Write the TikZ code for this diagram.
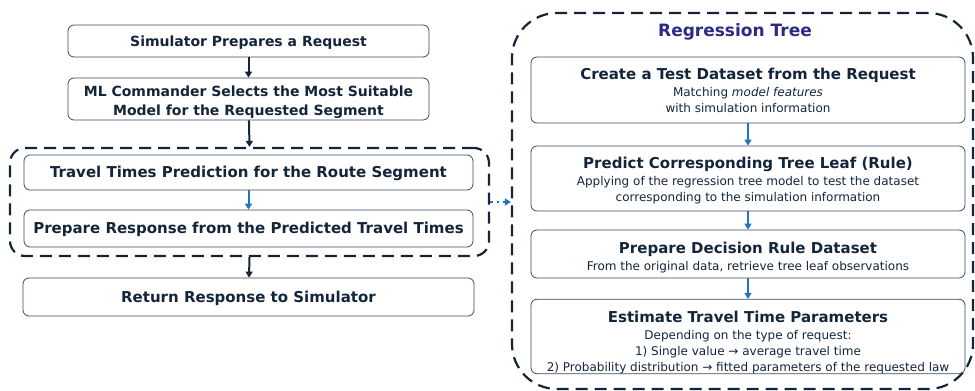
\documentclass[tikz,border=0pt]{standalone}
\usepackage{fontspec}
\setmainfont{DejaVu Sans}
\usetikzlibrary{arrows.meta}
\definecolor{navy}{HTML}{14253A}
\definecolor{boxline}{HTML}{3E4B5B}
\definecolor{flowblue}{HTML}{1F74C4}
\definecolor{titlepurple}{HTML}{2D2A86}
\newcommand{\stepfont}{\fontsize{15}{18}\selectfont\bfseries}
% strut that lowers a node's text block by half of its extra height
\newcommand{\lowerby}[1]{\rule{0pt}{\dimexpr 11pt+2\dimexpr #1\relax\relax}}
\begin{document}
\begin{tikzpicture}[x=1pt,y=-1pt,
  stepbox/.style={draw=boxline, line width=0.8pt, rounded corners=6pt,
    text=navy, align=center, inner sep=0pt},
  headA/.style={font=\fontsize{14}{18.5}\selectfont\bfseries},
  headB/.style={font=\fontsize{15}{18}\selectfont\bfseries},
  notes/.style={font=\fontsize{12}{16}\selectfont},
  groupbox/.style={draw=navy, line width=2.2pt, dash pattern=on 12pt off 7pt, inner sep=0pt},
  darr/.style={draw=navy, line width=2pt, -{Triangle[width=7pt,length=6pt]}},
  barr/.style={draw=flowblue, line width=2pt, -{Triangle[width=7pt,length=6pt]}},
  dotarr/.style={draw=flowblue, line width=2.2pt, dash pattern=on 2.5pt off 4pt, -{Triangle[width=7pt,length=6pt]}}
]
\useasboundingbox (0,0) rectangle (975,391);

% left flow
\node[stepbox, headA, minimum width=361pt, minimum height=32pt] (b1) at (248.5,41) {\lowerby{1pt}Simulator Prepares a Request};
\node[stepbox, headA, minimum width=361pt, minimum height=42pt] (b2) at (248.5,99) {\lowerby{3pt}ML Commander Selects the Most Suitable\\Model for the Requested Segment};
\node[groupbox, rounded corners=15pt, minimum width=479pt, minimum height=108pt] (lgrp) at (249.5,202) {};
\node[stepbox, headB, minimum width=449pt, minimum height=35pt] (b3) at (248.5,172.5) {\lowerby{1pt}Travel Times Prediction for the Route Segment};
\node[stepbox, headB, minimum width=449pt, minimum height=37pt] (b4) at (248.5,228.5) {\lowerby{1pt}Prepare Response from the Predicted Travel Times};
\node[stepbox, headB, minimum width=451pt, minimum height=38pt] (b5) at (248.5,297) {\lowerby{2pt}Return Response to Simulator};

\draw[darr] (b1) -- (b2);
\draw[darr] (b2) -- (lgrp.north);
\draw[barr] (b3) -- (b4);
\draw[darr] (lgrp.south) -- (b5);

% regression tree group
\node[groupbox, rounded corners=45pt, minimum width=461pt, minimum height=376pt] (rgrp) at (742.5,201) {};
\node[text=titlepurple, font=\fontsize{17}{20}\selectfont\bfseries] (rtitle) at (735,32) {Regression Tree};

\node[stepbox, notes, minimum width=434pt, minimum height=66pt] (r1) at (748,90)
  {{\stepfont\lowerby{1pt}Create a Test Dataset from the Request}\\[1pt]
   Matching \textit{model features}\\ with simulation information};
\node[stepbox, notes, minimum width=434pt, minimum height=65pt] (r2) at (748,178.5)
  {{\stepfont\lowerby{2pt}Predict Corresponding Tree Leaf (Rule)}\\[1pt]
   Applying of the regression tree model to test the dataset\\ corresponding to the simulation information};
\node[stepbox, notes, minimum width=434pt, minimum height=48pt] (r3) at (748,254)
  {{\stepfont\lowerby{4pt}Prepare Decision Rule Dataset}\\[1pt]
   From the original data, retrieve tree leaf observations};
\node[stepbox, notes, minimum width=434pt, minimum height=73pt] (r4) at (748,336.5)
  {{\stepfont\lowerby{6pt}Estimate Travel Time Parameters}\\[1pt]
   Depending on the type of request:\\ 1) Single value → average travel time\\ 2) Probability distribution → fitted parameters of the requested law};

\draw[barr] (r1) -- (r2);
\draw[barr] (r2) -- (r3);
\draw[barr] (r3) -- (r4);

\draw[dotarr] (lgrp.east) -- (lgrp.east -| rgrp.west);
\end{tikzpicture}
\end{document}
